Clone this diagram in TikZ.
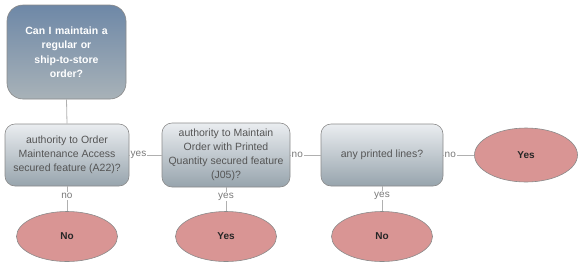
\documentclass[tikz,border=0pt]{standalone}
\usepackage{fontspec}
\setmainfont{Liberation Sans}
\usetikzlibrary{shapes.geometric}
\definecolor{edgegray}{HTML}{8A8A8A}
\definecolor{linegray}{HTML}{B0B0B0}
\definecolor{txtgray}{HTML}{555555}
\definecolor{lblgray}{HTML}{7A7A7A}
\definecolor{dtop}{HTML}{EAEDF0}
\definecolor{dbot}{HTML}{97A4AD}
\definecolor{qtop}{HTML}{6E88A7}
\definecolor{qbot}{HTML}{A8B2B8}
\definecolor{endfill}{HTML}{D99594}
\tikzset{
  question/.style={draw=edgegray, line width=0.6pt, rounded corners=16pt, top color=qtop, bottom color=qbot,
    minimum width=119pt, minimum height=94pt, text width=105pt, align=center,
    font=\fontsize{10.5}{14.5}\selectfont\bfseries, text=white, inner sep=0pt},
  decision/.style={draw=edgegray, line width=0.6pt, rounded corners=10pt, top color=dtop, bottom color=dbot,
    minimum height=62pt, align=center, font=\fontsize{10.5}{14}\selectfont, text=txtgray, inner sep=0pt},
  outcome/.style={ellipse, draw=edgegray, line width=0.6pt, fill=endfill, minimum width=101pt, minimum height=50pt,
    font=\fontsize{10}{12}\selectfont\bfseries, text=black!85, inner sep=0pt},
  conn/.style={draw=linegray, line width=0.8pt},
  hlbl/.style={pos=0, anchor=west, fill=white, inner sep=1pt, font=\fontsize{10}{11}\selectfont, text=lblgray},
  vlbl/.style={pos=0.38, fill=white, inner sep=1pt, font=\fontsize{10}{11}\selectfont, text=lblgray},
}
\begin{document}
\begin{tikzpicture}[x=1pt, y=-1pt]
\useasboundingbox (0,0) rectangle (581,266);
\node[question] (q) at (66.5,52) {Can I maintain a\\regular or\\ship-to-store\\order?};
\node[decision, minimum width=124pt] (d1) at (67,155) {authority to Order\\Maintenance Access\\secured feature (A22)?};
\node[decision, minimum width=128pt, minimum height=64pt] (d2) at (226,155) {authority to Maintain\\Order with Printed\\Quantity secured feature\\(J05)?};
\node[decision, minimum width=122pt] (d3) at (382,155) {any printed lines?};
\node[outcome, minimum width=103pt, minimum height=54pt] (e0) at (526,155) {Yes};
\node[outcome] (e1) at (67,236.5) {No};
\node[outcome] (e2) at (226,236.5) {Yes};
\node[outcome] (e3) at (382,236.5) {No};
\draw[conn] (q.south) -- (d1.north);
\draw[conn] (d1.east) -- node[hlbl] {yes} (d2.west);
\draw[conn] (d2.east) -- node[hlbl] {no} (d3.west);
\draw[conn] (d3.east) -- node[hlbl] {no} (e0.west);
\draw[conn] (d1.south) -- node[vlbl] {no} (e1.north);
\draw[conn] (d2.south) -- node[vlbl] {yes} (e2.north);
\draw[conn] (d3.south) -- node[vlbl] {yes} (e3.north);
\end{tikzpicture}
\end{document}
